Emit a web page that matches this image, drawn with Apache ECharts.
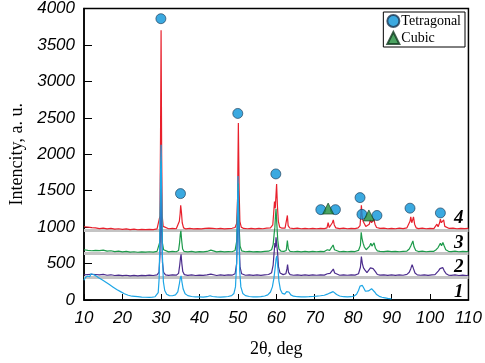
<!DOCTYPE html>
<html>
<head>
<meta charset="utf-8">
<script src="https://cdn.jsdelivr.net/npm/echarts@6/dist/echarts.min.js"></script>
<style>
  html, body { margin: 0; padding: 0; background: #fff; }
  #main { width: 485px; height: 363px; }
</style>
</head>
<body>
<div id="main"></div>
<script>
// XRD patterns, curves 1..4 offset vertically
var curve1 = [[10,270],[10.3,305],[10.6,290],[10.9,330],[11.2,345],[11.5,320],[11.8,360],[12.1,385],[12.4,350],[12.7,375],[13,335],[13.4,330],[13.8,305],[14.2,300],[14.6,280],[15,270],[15.5,250],[16,235],[16.5,215],[17,195],[17.5,180],[18,160],[18.5,145],[19,130],[19.5,115],[20,100],[20.5,85],[21,78],[21.5,65],[22,60],[22.5,52],[23,50],[24,45],[25,40],[26,38],[27,35],[27.8,40],[28.5,45],[29,60],[29.3,100],[29.55,300],[29.75,900],[29.9,1700],[30.05,2130],[30.2,1500],[30.4,600],[30.65,250],[31,130],[31.5,80],[32.2,60],[33,58],[33.8,70],[34.4,110],[34.8,220],[35.05,300],[35.25,330],[35.5,240],[35.8,150],[36.3,85],[37,60],[38,48],[39,44],[40,42],[41,40],[42,45],[42.8,58],[43.4,48],[44.5,42],[45.5,40],[46.5,44],[47.5,48],[48.4,60],[49,90],[49.4,180],[49.7,500],[49.9,1200],[50.05,1700],[50.25,1000],[50.5,400],[50.8,180],[51.3,90],[52,60],[53,48],[54,44],[55,42],[56,46],[57,55],[57.8,70],[58.5,110],[59,180],[59.4,300],[59.7,430],[59.95,560],[60.15,605],[60.4,460],[60.7,260],[61.1,140],[61.6,90],[62.2,80],[62.7,115],[62.95,135],[63.3,110],[63.8,70],[64.5,52],[65.5,45],[66.5,42],[67.5,44],[68.5,45],[69.5,48],[70.5,52],[71.5,58],[72.5,65],[73.3,80],[73.9,95],[74.4,105],[74.8,115],[75.2,100],[75.7,75],[76.5,55],[77.5,45],[78.5,42],[79.5,45],[80.3,55],[80.9,80],[81.4,130],[81.8,190],[82.1,215],[82.4,200],[82.8,160],[83.2,120],[83.6,110],[84,125],[84.4,140],[84.8,155],[85.2,135],[85.6,110],[86.1,75],[86.8,50],[87.5,38],[88.3,30],[89,22],[89.6,18],[90,15]];

var curve2 = [[10,345],[10.5,362],[11,350],[11.5,368],[12,352],[12.5,366],[13,350],[13.5,358],[14,345],[15,352],[16,340],[17,346],[18,336],[19,342],[20,334],[21,340],[22,332],[23,338],[24,332],[25,338],[26,334],[27,342],[28,336],[29,345],[29.5,380],[29.75,600],[29.9,1100],[30.05,1600],[30.2,1000],[30.4,520],[30.7,380],[31.2,345],[32,338],[33,344],[34,340],[34.6,365],[34.9,480],[35.1,580],[35.25,626],[35.45,500],[35.7,390],[36.1,348],[37,338],[38,344],[39,336],[40,342],[41,338],[42,345],[43,355],[43.5,342],[44.5,336],[45.5,344],[46.5,338],[47.5,344],[48.5,340],[49.3,360],[49.7,500],[49.95,1000],[50.15,1500],[50.35,800],[50.6,450],[51,360],[52,340],[53,346],[54,338],[55,344],[56,338],[57,346],[58,350],[58.8,375],[59.2,480],[59.45,650],[59.65,780],[59.8,720],[59.95,860],[60.1,880],[60.35,650],[60.6,450],[61,370],[61.8,348],[62.5,360],[62.8,430],[62.95,485],[63.2,380],[63.6,348],[64.5,340],[65.5,346],[66.5,338],[67.5,345],[68.5,338],[69.5,346],[70.5,340],[71.5,346],[72.5,342],[73.3,360],[73.6,385],[74,365],[74.5,380],[74.85,425],[75.2,370],[75.7,345],[76.5,340],[77.5,346],[78.5,340],[79.5,346],[80.5,342],[81.4,360],[81.9,450],[82.15,595],[82.4,500],[82.7,440],[83.1,410],[83.6,375],[84.1,395],[84.5,440],[84.8,415],[85.2,430],[85.45,445],[85.8,390],[86.3,350],[87,342],[88,346],[89,338],[90,344],[91,338],[92,345],[93,340],[94,352],[94.6,380],[95,430],[95.35,485],[95.7,430],[96.1,370],[96.7,345],[97.5,340],[98.5,346],[99.5,338],[100.5,344],[101.3,348],[101.8,370],[102.2,400],[102.6,430],[102.9,410],[103.3,445],[103.7,400],[104.2,360],[104.8,342],[105.5,338],[106.5,344],[107.5,336],[108.5,342],[109.5,336],[110,340]];

var curve3 = [[10,690],[10.5,695],[11,680],[11.5,688],[12,676],[12.5,690],[13,682],[13.5,694],[14,678],[15,684],[16,670],[17,676],[18,665],[19,670],[20,660],[21,666],[22,658],[23,662],[24,655],[25,660],[26,656],[27,662],[28,658],[29,668],[29.5,690],[29.75,800],[29.9,1300],[30.05,1900],[30.2,1200],[30.4,780],[30.7,690],[31.2,665],[32,660],[33,668],[34,662],[34.6,680],[34.85,780],[35.05,900],[35.2,950],[35.4,820],[35.65,700],[36,668],[37,660],[38,666],[39,658],[40,664],[41,660],[42,666],[43,685],[43.5,668],[44.5,660],[45.5,666],[46.5,660],[47.5,665],[48.5,662],[49.3,680],[49.7,800],[49.95,1200],[50.15,1600],[50.35,1000],[50.6,740],[51,675],[52,662],[53,668],[54,660],[55,665],[56,660],[57,668],[58,670],[58.8,690],[59.2,760],[59.45,900],[59.65,1000],[59.8,1150],[59.95,1250],[60.15,1050],[60.4,820],[60.7,700],[61.2,672],[62,668],[62.6,680],[62.9,815],[63.15,700],[63.6,668],[64.5,662],[65.5,668],[66.5,660],[67.5,666],[68.5,660],[69.5,667],[70.5,662],[71.5,668],[72.5,665],[73.3,690],[73.55,710],[73.9,680],[74.4,700],[74.8,755],[75.15,690],[75.6,668],[76.5,662],[77.5,668],[78.5,662],[79.5,668],[80.5,665],[81.4,680],[81.9,750],[82.1,930],[82.3,850],[82.6,780],[82.9,730],[83.4,690],[83.9,700],[84.3,740],[84.6,780],[84.9,740],[85.2,760],[85.45,785],[85.8,710],[86.3,675],[87,668],[88,664],[89,670],[90,664],[91,668],[92,662],[93,668],[94,672],[94.6,700],[95,740],[95.25,720],[95.55,810],[95.85,730],[96.3,680],[97,665],[98,670],[99,662],[100,668],[101,668],[101.6,690],[102.1,720],[102.4,740],[102.7,780],[103,745],[103.35,790],[103.7,740],[104.1,690],[104.8,668],[105.5,665],[106.5,670],[107.5,662],[108.5,668],[109.5,664],[110,666]];

var curve4 = [[10,1005],[10.5,992],[11,1000],[11.5,988],[12,994],[12.5,984],[13,990],[14,980],[15,986],[16,976],[17,982],[18,972],[19,978],[20,970],[21,975],[22,966],[23,972],[24,964],[25,968],[26,965],[27,970],[28,966],[29,975],[29.5,1000],[29.75,1150],[29.9,2200],[30.05,3700],[30.2,2000],[30.35,1150],[30.6,1010],[31,985],[32,978],[33,982],[34,978],[34.5,990],[34.8,1080],[35.0,1180],[35.15,1300],[35.35,1200],[35.55,1060],[35.9,990],[36.5,975],[37.5,982],[38.5,976],[39.5,980],[40.5,975],[41.5,982],[42.5,985],[43,1000],[43.5,984],[44.5,978],[45.5,982],[46.5,976],[47.5,980],[48.5,984],[49.3,995],[49.7,1050],[49.95,1400],[50.15,2430],[50.35,1500],[50.55,1080],[50.9,1000],[51.5,982],[52.5,978],[53.5,983],[54.5,977],[55.5,982],[56.5,978],[57.5,985],[58.5,990],[59.1,1030],[59.35,1200],[59.55,1350],[59.75,1260],[59.95,1450],[60.1,1590],[60.3,1300],[60.55,1080],[60.9,1000],[61.5,985],[62.3,985],[62.7,1000],[62.9,1160],[63.1,1020],[63.5,988],[64.5,980],[65.5,985],[66.5,978],[67.5,983],[68.5,978],[69.5,984],[70.5,978],[71.5,984],[72.5,980],[73.2,990],[73.5,1060],[73.8,995],[74.3,1000],[74.6,1060],[74.85,1100],[75.1,1030],[75.5,990],[76.5,980],[77.5,985],[78.5,978],[79.5,984],[80.5,980],[81.3,990],[81.8,1020],[82.0,1150],[82.15,1300],[82.35,1150],[82.6,1080],[82.9,1050],[83.3,1010],[83.8,1000],[84.2,1040],[84.5,1100],[84.8,1060],[85.1,1070],[85.4,1110],[85.7,1040],[86.1,995],[87,982],[88,986],[89,978],[90,984],[91,978],[92,985],[93,980],[94,990],[94.5,1010],[94.8,1080],[95.0,1140],[95.25,1060],[95.5,1100],[95.7,1140],[96.0,1040],[96.4,990],[97,980],[98,985],[99,978],[100,984],[101,980],[101.5,995],[101.8,1040],[102.1,1005],[102.5,1060],[102.7,1110],[102.95,1060],[103.3,1080],[103.55,1100],[103.85,1010],[104.3,990],[105,982],[106,986],[107,978],[108,984],[109,980],[110,982]];

// gray baselines under curves 2, 3, 4
var baselines = [310, 640, 958];

// phase markers
var tetragonal = [[30.0,3860],[35.1,1460],[50.0,2560],[59.9,1730],[71.6,1240],[75.4,1240],[81.8,1405],[82.3,1175],[86.2,1160],[94.8,1260],[102.7,1195]];
var cubic = [[73.5,1255],[84.1,1160]];

var xTicks = [10, 110, 10];   // min, max, step
var yTicks = [0, 4000, 500];

var curveColors = ['#1ea6e6', '#4b2c8c', '#1c9a4a', '#e8202c'];
var curveLabels = ['1', '2', '3', '4'];

var myChart = echarts.init(document.getElementById('main'));

var labelFont = {
    fontFamily: 'Liberation Sans',
    fontStyle: 'italic',
    fontSize: 17,
    color: '#000',
    formatter: function (v) { return String(v); }
};

function baseLine(v) {
    return {
        silent: true,
        symbol: 'none',
        z: 1,
        label: { show: false },
        lineStyle: { color: '#c4c4c4', width: 3, type: 'solid' },
        data: [{ yAxis: v }]
    };
}

function curve(name, data, color, z, mark) {
    var s = {
        name: name,
        type: 'line',
        data: data,
        showSymbol: false,
        symbol: 'none',
        z: z,
        lineStyle: { color: color, width: 1.2 },
        animation: false
    };
    if (mark !== undefined) s.markLine = baseLine(mark);
    return s;
}

myChart.setOption({
    animation: false,
    grid: {
        left: 79,
        right: 14,
        top: 7,
        bottom: 60,
        show: true,
        borderColor: '#000',
        borderWidth: 1.5
    },
    legend: {
        data: ['Tetragonal', 'Cubic'],
        orient: 'vertical',
        right: 20,
        top: 12,
        itemGap: 3,
        itemWidth: 12,
        itemHeight: 12,
        padding: [2, 4, 2, 3],
        borderColor: '#000',
        borderWidth: 1,
        backgroundColor: '#fff',
        textStyle: { fontFamily: 'Liberation Serif', fontSize: 14, color: '#000', padding: [0, 0, 0, -3] }
    },
    xAxis: {
        type: 'value',
        min: xTicks[0],
        max: xTicks[1],
        interval: xTicks[2],
        name: '2θ, deg',
        nameLocation: 'middle',
        nameGap: 40,
        nameTextStyle: { fontFamily: 'Liberation Serif', fontSize: 18, color: '#000' },
        axisLine: { lineStyle: { color: '#000', width: 1.5 } },
        axisTick: { inside: true, length: 6, lineStyle: { color: '#000', width: 1 } },
        axisLabel: Object.assign({ margin: 10 }, labelFont),
        splitLine: { show: false }
    },
    yAxis: {
        type: 'value',
        min: yTicks[0],
        max: yTicks[1],
        interval: yTicks[2],
        name: 'Intencity, a. u.',
        nameLocation: 'middle',
        nameGap: 58,
        nameTextStyle: { fontFamily: 'Liberation Serif', fontSize: 18, color: '#000' },
        axisLine: { lineStyle: { color: '#000', width: 1.5 } },
        axisTick: { inside: true, length: 8, lineStyle: { color: '#000', width: 1 } },
        axisLabel: Object.assign({ margin: 9 }, labelFont),
        splitLine: { show: false }
    },
    graphic: curveLabels.map(function (t, i) {
        var ys = [293, 268, 244, 219];
        return {
            type: 'text',
            left: 454,
            top: ys[i] - 10,
            style: {
                text: t,
                font: 'italic bold 19px "Liberation Serif"',
                fill: '#000'
            }
        };
    }),
    series: [
        curve('4', curve4, curveColors[3], 2, baselines[2]),
        curve('3', curve3, curveColors[2], 3, baselines[1]),
        curve('2', curve2, curveColors[1], 4, baselines[0]),
        curve('1', curve1, curveColors[0], 5),
        {
            name: 'Tetragonal',
            type: 'scatter',
            data: tetragonal,
            symbol: 'circle',
            symbolSize: 10,
            z: 10,
            itemStyle: { color: '#0a94d8', borderColor: '#1a3550', borderWidth: 0.8 }
        },
        {
            name: 'Cubic',
            type: 'scatter',
            data: cubic,
            symbol: 'triangle',
            symbolSize: 11,
            z: 10,
            itemStyle: { color: '#1e8c3a', borderColor: '#123a20', borderWidth: 0.8 }
        }
    ]
});
</script>
</body>
</html>
